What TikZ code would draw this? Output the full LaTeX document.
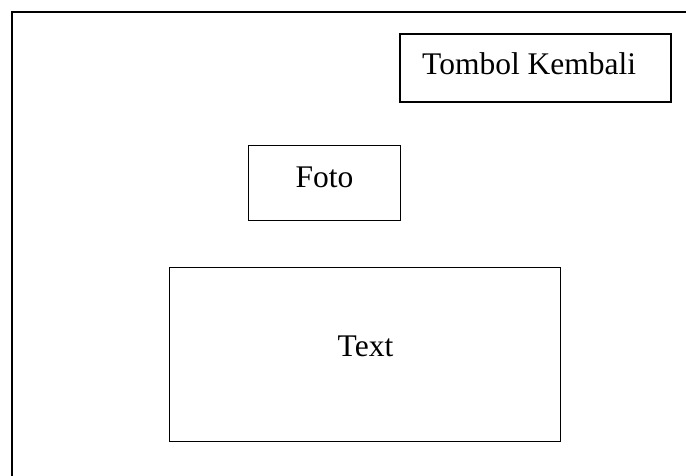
\documentclass[tikz,border=0pt]{standalone}
\usepackage{fontspec}
\setmainfont{Liberation Serif}
\begin{document}
\begin{tikzpicture}[x=1pt,y=-1pt,
  panel/.style={draw=black,line width=1.8pt,rectangle,inner sep=0pt,outer sep=0pt,anchor=north west},
  caption/.style={font=\fontsize{31.5}{36}\selectfont,inner sep=0pt}]
  \useasboundingbox (0,0) rectangle (686,475);
  \clip (0,0) rectangle (686,475);
  % screen frame (continues past the right and bottom edges)
  \draw[line width=2.4pt] (12,480) -- (12,12) -- (690,12);
  % back button
  \node[panel,minimum width=271pt,minimum height=68pt] (back) at (400,34) {};
  \node[caption,anchor=base west] (backlbl) at (422,74) {Tombol Kembali};
  % photo area
  \node[panel,minimum width=152pt,minimum height=75pt] (photo) at (248.5,145.5) {};
  \node[caption,anchor=base] (photolbl) at (324.5,187) {Foto};
  % text area
  \node[panel,minimum width=391pt,minimum height=174pt] (textbox) at (169.5,267.5) {};
  \node[caption,anchor=base] (textlbl) at (365.5,356) {Text};
\end{tikzpicture}
\end{document}
